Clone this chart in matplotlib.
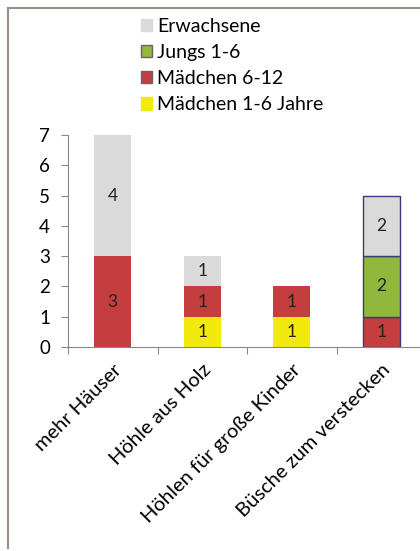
import matplotlib.pyplot as plt
from matplotlib.lines import Line2D
from matplotlib.patches import Patch

plt.rcParams['font.family'] = ['Lato', 'DejaVu Sans']

# Daten
kategorien = ["mehr Häuser", "Höhle aus Holz", "Höhlen für große Kinder", "Büsche zum verstecken"]
maedchen_1_6 = [0, 1, 1, 0]
maedchen_6_12 = [3, 1, 1, 1]
jungs_1_6 = [0, 0, 0, 2]
erwachsene = [4, 1, 0, 2]

serien = [
    ("Mädchen 1-6 Jahre", maedchen_1_6, "#f2ea0c"),
    ("Mädchen 6-12", maedchen_6_12, "#c43d3f"),
    ("Jungs 1-6", jungs_1_6, "#8fb83c"),
    ("Erwachsene", erwachsene, "#dadada"),
]

fig = plt.figure(figsize=(4.2, 5.51), dpi=100)
ax = fig.add_axes([68 / 420, 1 - 347 / 551, 358 / 420, 212 / 551])

x = range(len(kategorien))
unten = [0] * len(kategorien)
for name, werte, farbe in serien:
    balken = ax.bar(x, werte, bottom=unten, width=0.41, color=farbe, label=name, zorder=2)
    # letzte Säule hat einen dunklen Rand
    balken[3].set_edgecolor("#3c3a78")
    balken[3].set_linewidth(1)
    for i, w in enumerate(werte):
        if w > 0:
            ax.text(i, unten[i] + w / 2, str(w), ha="center", va="center", fontsize=12.5, color="#222222")
    unten = [u + w for u, w in zip(unten, werte)]

ax.set_xlim(-0.5, 3.5)
ax.set_ylim(0, 7)
ax.set_yticks(range(8))
ax.set_xticks([-0.5, 0.5, 1.5, 2.5])
ax.set_xticklabels([])
ax.set_xticks(list(x), minor=True)
ax.set_xticklabels(kategorien, minor=True, rotation=45, ha="right", rotation_mode="anchor", fontsize=14.5)
ax.tick_params(axis="x", which="minor", length=0, pad=10)
ax.tick_params(axis="x", which="major", length=5, color="#868686")
ax.tick_params(axis="y", length=5, color="#868686", labelsize=13.5, pad=8)

for s in ["top", "right"]:
    ax.spines[s].set_visible(False)
for s in ["left", "bottom"]:
    ax.spines[s].set_color("#868686")

# Legende (umgekehrte Reihenfolge)
handles = [Patch(facecolor=f, edgecolor="#666666" if n in ("Jungs 1-6", "Mädchen 6-12") else f, label=n)
           for n, _, f in reversed(serien)]
fig.legend(handles=handles, loc="upper left", bbox_to_anchor=(133 / 420, 1 - 10 / 551),
           frameon=False, fontsize=14, handlelength=0.6, handleheight=0.6,
           handletextpad=0.25, labelspacing=0.47, borderaxespad=0)

# Rahmen
fig.add_artist(Line2D([8 / 420, 8 / 420], [1 - 548 / 551, 1 - 8 / 551], color="#9a8f8a", lw=1.5, transform=fig.transFigure))
fig.add_artist(Line2D([8 / 420, 1], [1 - 8 / 551, 1 - 8 / 551], color="#9a8f8a", lw=1.5, transform=fig.transFigure))

fig.savefig("out.png", dpi=100)
